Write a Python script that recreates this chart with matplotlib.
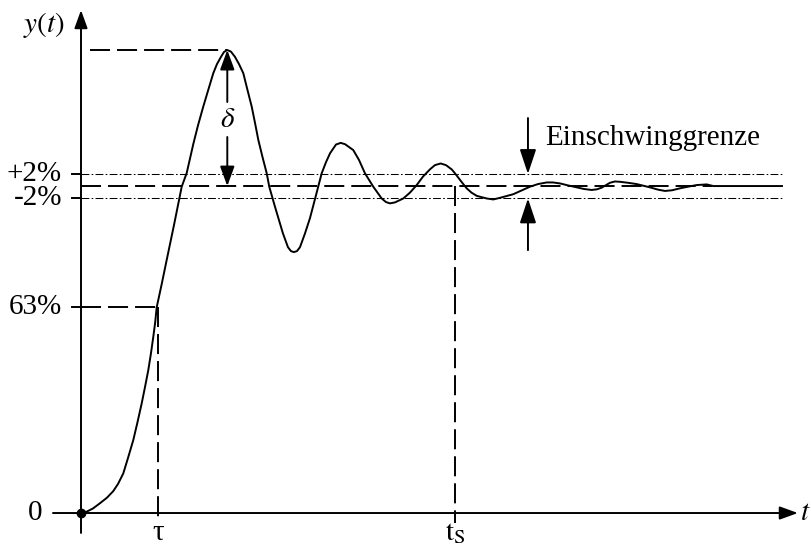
import numpy as np
import matplotlib.pyplot as plt

plt.rcParams['font.family'] = ['Liberation Serif', 'DejaVu Serif']
plt.rcParams['mathtext.fontset'] = 'stix'

# step response y(t) (tau = 1, final value = 1)
t_vals = [0.000, 0.065, 0.156, 0.247, 0.338, 0.419, 0.481, 0.549, 0.610, 0.679,
          0.734, 0.788, 0.831, 0.874, 0.909, 0.939, 0.964, 0.983, 1.048, 1.113,
          1.208, 1.308, 1.373, 1.458, 1.519, 1.588, 1.649, 1.718, 1.766, 1.818,
          1.857, 1.900, 1.948, 2.000, 2.052, 2.108, 2.162, 2.217, 2.260, 2.303,
          2.357, 2.412, 2.445, 2.519, 2.571, 2.623, 2.688, 2.727, 2.766, 2.805,
          2.844, 2.909, 2.974, 3.052, 3.126, 3.182, 3.234, 3.312, 3.373, 3.429,
          3.536, 3.610, 3.688, 3.796, 3.905, 3.961, 4.013, 4.078, 4.186, 4.273,
          4.360, 4.442, 4.532, 4.597, 4.671, 4.740, 4.814, 4.857, 4.935, 5.009,
          5.071, 5.139, 5.269, 5.355, 5.442, 5.614, 5.831, 5.935, 6.048, 6.130,
          6.221, 6.325, 6.438, 6.532, 6.632, 6.701, 6.762, 6.870, 6.935, 7.000,
          7.104, 7.217, 7.390, 7.494, 7.584, 7.675, 7.779, 7.883, 7.996, 8.126,
          8.212, 9.104]
y_vals = [0.000, 0.003, 0.014, 0.030, 0.047, 0.067, 0.089, 0.121, 0.168, 0.223,
          0.278, 0.335, 0.385, 0.437, 0.489, 0.539, 0.584, 0.629, 0.700, 0.774,
          0.881, 0.998, 1.040, 1.128, 1.185, 1.243, 1.291, 1.345, 1.373, 1.395,
          1.410, 1.416, 1.411, 1.395, 1.373, 1.345, 1.294, 1.243, 1.193, 1.141,
          1.089, 1.039, 0.998, 0.937, 0.896, 0.855, 0.813, 0.801, 0.798, 0.801,
          0.813, 0.855, 0.902, 0.972, 1.039, 1.073, 1.100, 1.127, 1.132, 1.128,
          1.110, 1.080, 1.039, 0.998, 0.962, 0.951, 0.947, 0.950, 0.962, 0.980,
          1.003, 1.029, 1.051, 1.064, 1.069, 1.064, 1.051, 1.039, 1.015, 0.993,
          0.980, 0.970, 0.962, 0.959, 0.964, 0.975, 0.998, 1.006, 1.011, 1.011,
          1.008, 1.002, 0.996, 0.991, 0.988, 0.990, 0.995, 1.010, 1.014, 1.013,
          1.010, 1.006, 0.996, 0.989, 0.985, 0.987, 0.993, 0.998, 1.003, 1.005,
          1.000, 1.000]

tau = 1.0
t_s = 4.857
t_peak = 1.900
y_peak = 1.416
y_63 = 0.63
y_final = 1.0
band_hi = 1.037
band_lo = 0.962
t_end = 9.104
t_dash_end = 8.2

y_ticks = [y_63, band_hi, band_lo]
y_tick_labels = ['63%', '+2%', '-2%']

fig = plt.figure(figsize=(8.11, 5.48), dpi=100)
ax = fig.add_axes([0, 0, 1, 1])
ax.set_xlim(-1.052, 9.481)
ax.set_ylim(-0.107, 1.569)
ax.axis('off')

k = 'black'
fs = 21
dash = (0, (10.3, 3.6))
dashdot = (0, (7.5, 2.2, 1.6, 2.2))

# axes with arrows
arrow_kw = dict(arrowstyle='-|>,head_length=0.55,head_width=0.2',
                mutation_scale=20, lw=1.4, color=k, shrinkA=0, shrinkB=0)
ax.annotate('', xy=(9.31, 0), xytext=(-0.364, 0), arrowprops=arrow_kw)
ax.annotate('', xy=(0, 1.538), xytext=(0, -0.061), arrowprops=arrow_kw)

# tolerance band and final value
ax.plot([0, t_end], [band_hi, band_hi], color=k, lw=0.75, ls=dashdot)
ax.plot([0, t_end], [band_lo, band_lo], color=k, lw=0.75, ls=dashdot)
ax.plot([0, t_dash_end], [y_final, y_final], color=k, lw=1.4, ls=dash)

# helper lines
ax.plot([0.117, t_peak], [y_peak, y_peak], color=k, lw=1.4, ls=dash)
ax.plot([0, tau], [y_63, y_63], color=k, lw=1.4, ls=dash)
ax.plot([tau, tau], [y_63, -0.03], color=k, lw=1.4, ls=dash)
ax.plot([t_s, t_s], [y_final, -0.03], color=k, lw=1.4, ls=dash)

# curve
ax.plot(t_vals, y_vals, color=k, lw=1.4, solid_joinstyle='round')
ax.plot([0], [0], 'o', color=k, ms=6)

# y ticks and labels
for yv, lab in zip(y_ticks, y_tick_labels):
    ax.plot([-0.117, 0], [yv, yv], color=k, lw=1.4)
    ax.text(-0.247, yv, lab, ha='right', va='center', fontsize=fs)
ax.text(-0.5, 0, '0', ha='right', va='center', fontsize=fs)

# x labels (kept just inside the bottom edge)
ax.text(tau, -0.100, 'τ', ha='center', va='bottom', fontsize=fs)
ax.text(t_s, -0.102, r'$\mathrm{t}_\mathrm{S}$', ha='center', va='bottom', fontsize=fs)
ax.text(9.34, 0.0, '$t$', ha='left', va='center', fontsize=fs)
ax.text(-0.48, 1.492, '$y(t)$', ha='center', va='center', fontsize=fs)

# overshoot delta
small_arrow = dict(arrowstyle='-|>,head_length=0.6,head_width=0.22',
                   mutation_scale=20, lw=1.4, color=k, shrinkA=0, shrinkB=0)
ax.annotate('', xy=(t_peak, y_peak), xytext=(t_peak, 1.257), arrowprops=small_arrow)
ax.annotate('', xy=(t_peak, y_final), xytext=(t_peak, 1.150), arrowprops=small_arrow)
ax.text(t_peak, 1.202, r'$\delta$', ha='center', va='center', fontsize=fs)

# settling band arrows
t_band = 5.805
big_arrow = dict(arrowstyle='-|>,head_length=0.75,head_width=0.25',
                 mutation_scale=20, lw=1.4, color=k, shrinkA=0, shrinkB=0)
ax.annotate('', xy=(t_band, band_hi), xytext=(t_band, 1.208), arrowprops=big_arrow)
ax.annotate('', xy=(t_band, band_lo), xytext=(t_band, 0.804), arrowprops=big_arrow)
ax.text(6.03, 1.147, 'Einschwinggrenze', ha='left', va='center', fontsize=fs)

fig.savefig('out.png', dpi=100)
